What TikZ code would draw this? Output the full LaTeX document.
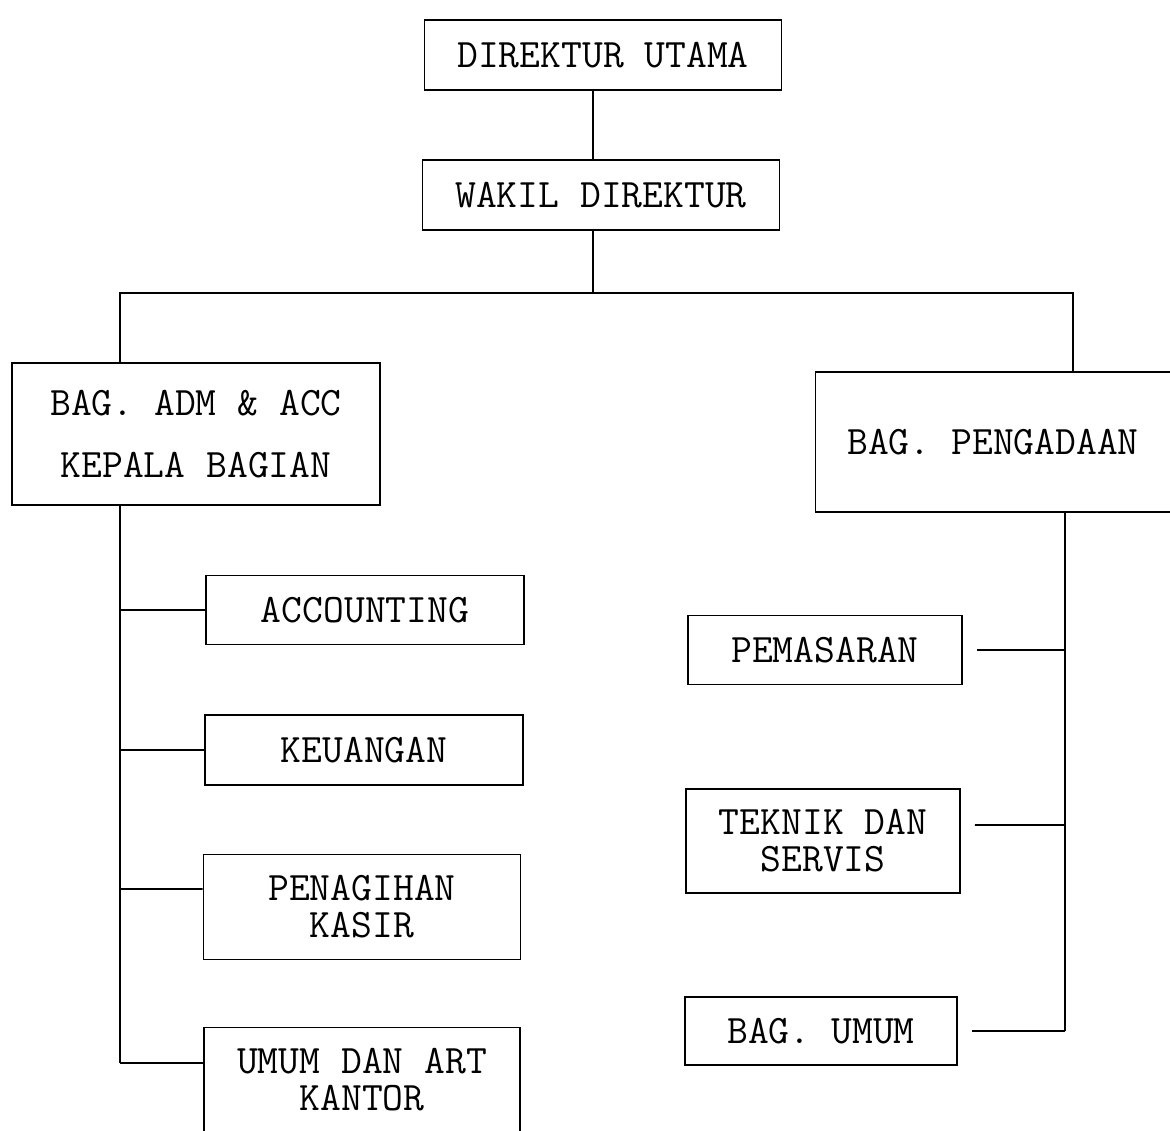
\documentclass[tikz,border=0pt]{standalone}
\usepackage{fontspec}
\begin{document}
\begin{tikzpicture}[x=0.02cm, y=-0.02cm, line width=1pt,
      jabatan/.style = {shape=rectangle, draw, align=center,
        line width=1pt, font=\ttfamily\fontsize{23}{21}\selectfont}]
  \useasboundingbox (0,0) rectangle (1170,1130);
  \clip (0,0) rectangle (1170,1130);
  % top
  \node[jabatan, minimum width=7.14cm, minimum height=1.4cm] (dirut) at (603,55) {DIREKTUR UTAMA};
  \node[jabatan, minimum width=7.14cm, minimum height=1.4cm] (wakil) at (601,195) {WAKIL DIREKTUR};
  % bagian
  \node[jabatan, minimum width=7.36cm, minimum height=2.84cm] (adm) at (196,434)
    {BAG. ADM \& ACC\\[14pt] KEPALA BAGIAN};
  \node[jabatan, minimum width=7.1cm, minimum height=2.8cm] (pengadaan) at (993,442) {BAG. PENGADAAN};
  % sub bagian kiri
  \node[jabatan, minimum width=6.36cm, minimum height=1.38cm] (acc) at (365,610) {ACCOUNTING};
  \node[jabatan, minimum width=6.36cm, minimum height=1.4cm] (keu) at (364,750) {KEUANGAN};
  \node[jabatan, minimum width=6.34cm, minimum height=2.1cm] (kasir) at (362,907) {PENAGIHAN\\KASIR};
  \node[jabatan, minimum width=6.32cm, minimum height=2.1cm] (kantor) at (362,1080) {UMUM DAN ART\\KANTOR};
  % sub bagian kanan
  \node[jabatan, minimum width=5.48cm, minimum height=1.38cm] (pasar) at (825,650) {PEMASARAN};
  \node[jabatan, minimum width=5.48cm, minimum height=2.08cm] (teknik) at (823,841) {TEKNIK DAN\\SERVIS};
  \node[jabatan, minimum width=5.44cm, minimum height=1.36cm] (umum) at (821,1031) {BAG. UMUM};
  % connectors
  \coordinate (split) at (593,293);
  \coordinate (busL) at (120,293);
  \coordinate (busR) at (1073,293);
  \coordinate (trunkR) at (1065,512);
  \path (busL |- kantor.west) ++(0,-17) coordinate (endL);
  \draw (split |- dirut.south) -- (split |- wakil.north);
  \draw (split |- wakil.south) -- (split);
  \draw (busL |- adm.north) -- (busL) -- (busR) -- (busR |- pengadaan.north);
  \draw (busL |- adm.south) -- (endL);
  \foreach \n in {acc, keu} {
    \draw (busL |- \n.west) -- (\n.west);
  }
  \draw (busL |- kasir.west) ++(0,-18) -- ([yshift=0.36cm]kasir.west);
  \draw (endL) -- ([yshift=0.34cm]kantor.west);
  \draw (trunkR |- pengadaan.south) -- (trunkR |- umum.east);
  \foreach \n in {pasar, umum} {
    \draw (trunkR |- \n.east) -- ([xshift=0.28cm]\n.east);
  }
  \draw (trunkR |- teknik.east) ++(0,-16) -- ([xshift=0.28cm,yshift=0.32cm]teknik.east);
\end{tikzpicture}
\end{document}
